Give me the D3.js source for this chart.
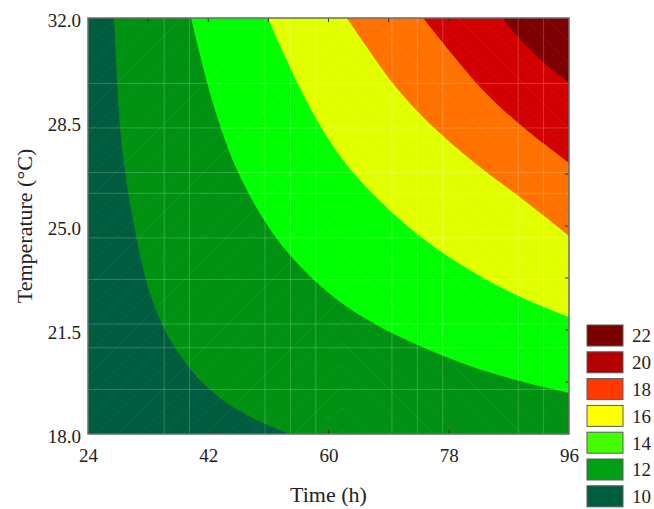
<!DOCTYPE html>
<html>
<head>
<meta charset="utf-8">
<script src="https://cdn.jsdelivr.net/npm/d3@7"></script>
<style>
  html, body { margin: 0; padding: 0; background: #ffffff; }
  svg { display: block; }
  text { font-family: "Liberation Serif", "Times New Roman", serif; fill: #222; }
</style>
</head>
<body>
<script>
// Axis ticks and contour levels
const timeTicks = [24, 42, 60, 78, 96];
const tempTicks = [18.0, 21.5, 25.0, 28.5, 32.0];
const timeMinorTicks = [33, 42, 51, 60, 69, 78, 87];
const tempMinorTicks = [19.75, 21.5, 23.25, 25.0, 26.75, 28.5, 30.25];
const levels = [10, 12, 14, 16, 18, 20, 22];

// Fill colour of each band (lowest band first) and of its legend swatch
const bandColors = ["#005c3e", "#009112", "#00ff00", "#e2ff00", "#ff7200", "#d20000", "#7e0000"];
const legendColors = ["#005e40", "#00a014", "#44ff00", "#ffff00", "#ff3a00", "#b40000", "#780000"];

// Iso-lines separating the bands: [time (h), temperature (°C)]
const iso10 = [[27.9, 32.0], [28.5, 29.24], [29.54, 26.88], [30.89, 25.03], [32.68, 23.18],
               [35.23, 21.63], [37.47, 20.76], [40.02, 19.99], [43.01, 19.35], [46.75, 18.77],
               [50.49, 18.34], [54.24, 18.0]];
const iso12 = [[39.42, 32.0], [40.77, 30.75], [42.56, 29.24], [44.96, 27.62], [47.95, 26.14],
               [51.54, 24.8], [55.73, 23.65], [60.97, 22.58], [66.96, 21.7], [73.7, 20.96],
               [81.18, 20.29], [88.67, 19.78], [96.0, 19.38]];
const iso14 = [[50.94, 32.0], [53.04, 30.92], [55.28, 29.85], [58.43, 28.5], [62.17, 27.22],
               [66.51, 26.11], [71.45, 25.07], [77.14, 24.09], [83.43, 23.22], [89.71, 22.51],
               [96.0, 21.94]];
const iso16 = [[62.77, 32.0], [66.21, 30.86], [69.95, 29.71], [73.99, 28.7], [78.49, 27.76],
               [83.43, 26.85], [89.41, 25.84], [96.0, 24.66]];
const iso18 = [[74.15, 32.0], [77.14, 31.16], [82.68, 29.68], [88.37, 28.47], [92.11, 27.79],
               [96.0, 27.12]];
const iso20 = [[85.97, 32.0], [88.37, 31.36], [92.11, 30.52], [96.0, 29.81]];
const isoLines = [iso10, iso12, iso14, iso16, iso18, iso20];

// Faint mesh lines over the surface
const meshTimes = [35.4, 39.2, 50.5, 54.3, 58.1, 69.5, 73.3, 77.1, 88.4, 92.2];
const meshTemps = [29.8, 28.3, 26.8, 26.1, 24.6, 23.2, 21.7, 20.9, 19.5];

const W = 654, H = 509;
const plot = { left: 88, right: 569, top: 18, bottom: 434 };

const x = d3.scaleLinear().domain([24, 96]).range([plot.left, plot.right]);
const y = d3.scaleLinear().domain([18, 32]).range([plot.bottom, plot.top]);

const svg = d3.select("body").append("svg").attr("width", W).attr("height", H);

svg.append("defs").append("clipPath").attr("id", "plot-clip")
  .append("rect")
  .attr("x", plot.left).attr("y", plot.top)
  .attr("width", plot.right - plot.left).attr("height", plot.bottom - plot.top);

const area = svg.append("g").attr("clip-path", "url(#plot-clip)");

// Lowest band covers the whole area
area.append("rect")
  .attr("x", x(24)).attr("y", y(32))
  .attr("width", x(96) - x(24)).attr("height", y(18) - y(32))
  .attr("fill", bandColors[0]);

// Each higher band: region between its iso-line and the top-right corner
const curve = d3.line().x(d => x(d[0])).y(d => y(d[1])).curve(d3.curveMonotoneX);
isoLines.forEach((pts, i) => {
  const last = pts[pts.length - 1];
  const corners = [];
  if (last[0] < 96) corners.push([96, last[1]]);
  corners.push([96, 32]);
  const d = curve(pts) + corners.map(c => "L" + x(c[0]) + "," + y(c[1])).join("") + "Z";
  area.append("path").attr("d", d).attr("fill", bandColors[i + 1]);
});

// Diagonal hatching (chevrons)
const cx = 342, span = 600;
const hatch = area.append("g").attr("stroke", "#ffffff").attr("stroke-opacity", 0.08)
  .attr("stroke-width", 0.8).attr("fill", "none");
for (let y0 = plot.top - span; y0 <= plot.bottom + 10; y0 += 22) {
  hatch.append("path").attr("d", `M${cx - span},${y0 + span}L${cx},${y0}L${cx + span},${y0 + span}`);
}

// Mesh lines
const mesh = area.append("g").attr("stroke", "#ffffff").attr("stroke-opacity", 0.2).attr("stroke-width", 1);
mesh.selectAll("line.v").data(meshTimes).join("line").attr("class", "v")
  .attr("x1", d => x(d)).attr("x2", d => x(d)).attr("y1", plot.top).attr("y2", plot.bottom);
mesh.selectAll("line.h").data(meshTemps).join("line").attr("class", "h")
  .attr("y1", d => y(d)).attr("y2", d => y(d)).attr("x1", plot.left).attr("x2", plot.right);

// Inner tick marks
const tickLen = 4;
const ticks = svg.append("g").attr("stroke", "#333").attr("stroke-width", 1);
ticks.selectAll("line.t").data(timeMinorTicks).join("line").attr("class", "t")
  .attr("x1", d => x(d)).attr("x2", d => x(d)).attr("y1", plot.top).attr("y2", plot.top + tickLen);
ticks.selectAll("line.b").data(timeTicks.slice(1, -1)).join("line").attr("class", "b")
  .attr("x1", d => x(d)).attr("x2", d => x(d)).attr("y1", plot.bottom).attr("y2", plot.bottom - tickLen);
ticks.selectAll("line.r").data(tempMinorTicks).join("line").attr("class", "r")
  .attr("y1", d => y(d)).attr("y2", d => y(d)).attr("x1", plot.right).attr("x2", plot.right - tickLen);

// Frame
svg.append("rect")
  .attr("x", plot.left).attr("y", plot.top)
  .attr("width", plot.right - plot.left).attr("height", plot.bottom - plot.top)
  .attr("fill", "none").attr("stroke", "#6c6c6c").attr("stroke-width", 1.5);

// Axis labels
const xAxis = svg.append("g").attr("transform", `translate(0,${plot.bottom})`)
  .call(d3.axisBottom(x).tickValues(timeTicks).tickSize(0).tickPadding(15).tickFormat(d3.format("d")));
xAxis.select(".domain").remove();
xAxis.selectAll("text").attr("font-size", 19).attr("font-family", "Liberation Serif").attr("fill", "#222");

const yAxis = svg.append("g").attr("transform", `translate(${plot.left},0)`)
  .call(d3.axisLeft(y).tickValues(tempTicks).tickSize(0).tickPadding(7).tickFormat(d3.format(".1f")));
yAxis.select(".domain").remove();
yAxis.selectAll("text").attr("font-size", 19).attr("dy", "0.45em")
  .attr("font-family", "Liberation Serif").attr("fill", "#222");

svg.append("text")
  .attr("x", (plot.left + plot.right) / 2).attr("y", 502)
  .attr("text-anchor", "middle").attr("font-size", 22)
  .text("Time (h)");

svg.append("text")
  .attr("transform", `translate(32,${(plot.top + plot.bottom) / 2}) rotate(-90)`)
  .attr("text-anchor", "middle").attr("font-size", 22)
  .text("Temperature (°C)");

// Legend
const legendItems = levels.map((v, i) => ({ v, c: legendColors[i] })).reverse();
const legend = svg.append("g");
const lg = legend.selectAll("g").data(legendItems).join("g")
  .attr("transform", (d, i) => `translate(587,${325 + i * 26.8})`);
lg.append("rect").attr("width", 36).attr("height", 21)
  .attr("fill", d => d.c).attr("stroke", "#5a5a5a").attr("stroke-width", 1);
lg.append("text").attr("x", 45).attr("y", 10.5).attr("dy", "0.36em")
  .attr("font-size", 19).text(d => d.v);
</script>
</body>
</html>
